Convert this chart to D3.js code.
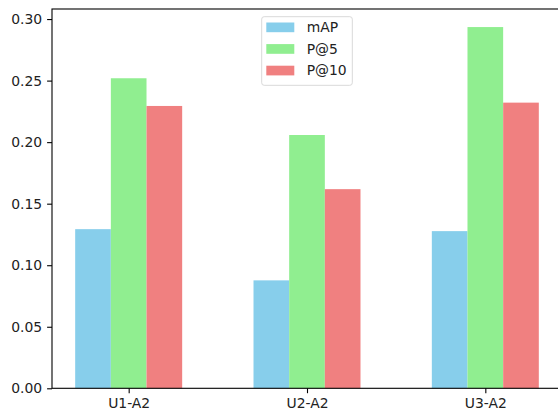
<!DOCTYPE html>
<html>
<head>
<meta charset="utf-8">
<script src="https://cdn.jsdelivr.net/npm/d3@7"></script>
<style>
  html, body { margin: 0; padding: 0; background: #fff; overflow: hidden; }
  text { font-family: "DejaVu Sans", sans-serif; }
</style>
</head>
<body>
<svg id="chart" width="558" height="410"></svg>
<script>
const categories = ["U1-A2", "U2-A2", "U3-A2"];
const seriesNames = ["mAP", "P@5", "P@10"];
const mAP = [0.1293, 0.0877, 0.1277];
const p5 = [0.2519, 0.2058, 0.2935];
const p10 = [0.2294, 0.1618, 0.2321];
const yTicks = [0.00, 0.05, 0.10, 0.15, 0.20, 0.25, 0.30];
const colors = ["#87CEEB", "#90EE90", "#F08080"];

const series = [mAP, p5, p10];
const svg = d3.select("#chart");
const mLeft = 52, mRight = 562, mTop = 9, mBottom = 388.3;
const barW = 0.2;

const x = d3.scaleLinear().domain([-0.43, 2.43]).range([mLeft, mRight]);
const yMax = d3.max(series.flat()) * 1.05;
const y = d3.scaleLinear().domain([0, yMax]).range([mBottom, mTop]);

// bars
series.forEach((vals, si) => {
  svg.append("g").selectAll("rect").data(vals).join("rect")
    .attr("x", (d, i) => x(i + (si - 1) * barW - barW / 2))
    .attr("width", x(barW) - x(0))
    .attr("y", d => y(d))
    .attr("height", d => y(0) - y(d))
    .attr("fill", colors[si]);
});

// axes
const yAxis = d3.axisLeft(y).tickValues(yTicks).tickFormat(d3.format(".2f")).tickSize(4.9).tickPadding(4.9);
const gy = svg.append("g").attr("transform", `translate(${mLeft},0)`).call(yAxis);
const xAxis = d3.axisBottom(x).tickValues(d3.range(categories.length)).tickFormat(i => categories[i]).tickSize(4.9).tickPadding(4.9);
const gx = svg.append("g").attr("transform", `translate(0,${mBottom})`).call(xAxis);
[gx, gy].forEach(g => {
  g.select(".domain").remove();
  g.selectAll(".tick line").attr("stroke", "#000").attr("stroke-width", 1.1);
  g.selectAll(".tick text").attr("fill", "#222").style("font-size", "13.9px");
});

// spines
const spine = svg.append("g").attr("fill", "none").attr("stroke", "#000").attr("stroke-width", 1.1);
spine.append("rect").attr("x", mLeft).attr("y", mTop).attr("width", mRight - mLeft).attr("height", mBottom - mTop);

// legend
const lg = svg.append("g").attr("transform", "translate(261.7,16.7)");
lg.append("rect").attr("width", 90.6).attr("height", 68.6).attr("rx", 2.5)
  .attr("fill", "#fff").attr("fill-opacity", 0.8).attr("stroke", "#d9d9d9").attr("stroke-width", 1);
seriesNames.forEach((n, i) => {
  const yy = 10.6 + i * 21.6;
  lg.append("rect").attr("x", 4.6).attr("y", yy - 4.8).attr("width", 28).attr("height", 9.7).attr("fill", colors[i]);
  lg.append("text").attr("x", 45).attr("y", yy).attr("dy", "0.35em").style("font-size", "13.9px").attr("fill", "#222").text(n);
});
</script>
</body>
</html>
